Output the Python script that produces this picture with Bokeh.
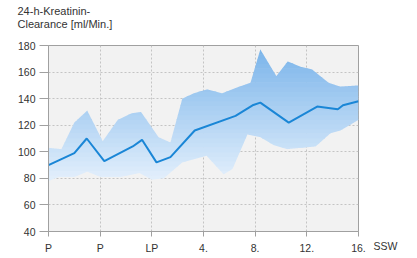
import numpy as np
from bokeh.plotting import figure
from bokeh.models import FixedTicker, LinearAxis, Range1d
from bokeh.embed import file_html
from bokeh.resources import INLINE

# ---- data ----
tick_pos = [0, 1, 2, 3, 4, 5, 6]
tick_labels = ["P", "P", "LP", "4.", "8.", "12.", "16."]
y_ticks = [40, 60, 80, 100, 120, 140, 160, 180]
title_text = "24-h-Kreatinin-\nClearance [ml/Min.]"
unit_label = "SSW"

mean_x = [0.00, 0.50, 0.74, 1.08, 1.63, 1.81, 2.09, 2.36, 2.83, 3.62, 3.95, 4.10, 4.65, 5.20, 5.60, 5.70, 6.00]
mean_y = [90, 99, 110, 93, 104, 109, 92, 96, 116, 127, 135, 137, 122, 134, 132, 135, 138]

upper_x = [0.00, 0.25, 0.50, 0.75, 1.05, 1.34, 1.61, 1.79, 2.13, 2.36, 2.59, 2.81, 3.07, 3.36, 3.62, 3.91, 4.10, 4.41, 4.63, 4.88, 5.10, 5.42, 5.65, 6.00]
upper_y = [103, 102, 122, 131, 108, 124, 129, 130, 111, 107, 140, 144, 147, 144, 148, 152, 177, 157, 168, 164, 162, 152, 149, 150]

lower_x = [0.00, 0.20, 0.50, 0.75, 1.01, 1.39, 1.76, 2.00, 2.23, 2.59, 3.06, 3.39, 3.56, 3.85, 4.10, 4.36, 4.62, 5.17, 5.46, 5.65, 6.00]
lower_y = [78, 81, 81, 85, 81, 81, 84, 79, 80, 92, 97, 83, 87, 113, 111, 105, 102, 104, 114, 116, 124]

p = figure(width=410, height=256, x_range=(0, 6), y_range=(40, 180),
           output_backend="svg", toolbar_location=None,
           min_border_left=48, min_border_right=52, min_border_top=43, min_border_bottom=23,
           background_fill_color="#f2f2f2", border_fill_color="white")

# ---- gradient band, drawn as horizontal strips ----
xs = np.union1d(np.linspace(0, 6, 1201), np.union1d(upper_x, lower_x))
up = np.interp(xs, upper_x, upper_y)
lo = np.interp(xs, lower_x, lower_y)
top_c = np.array([0x78, 0xb3, 0xea])
bot_c = np.array([0xe2, 0xef, 0xfc])
edges = np.arange(40, 181, 3.5)
for a, b in zip(edges[:-1], edges[1:]):
    mid = (a + b) / 2
    t = np.clip((mid - 80) / (180 - 80), 0, 1)
    c = (bot_c + (top_c - bot_c) * t).astype(int)
    col = "#%02x%02x%02x" % tuple(c)
    y1 = np.clip(lo, a, b + 0.4)
    y2 = np.clip(up, a, b + 0.4)
    y2 = np.maximum(y1, y2)
    p.varea(x=xs, y1=y1, y2=y2, fill_color=col, fill_alpha=1.0)

p.line(mean_x, mean_y, line_color="#1a86d6", line_width=2)

# ---- axes ----
p.xaxis.ticker = FixedTicker(ticks=tick_pos)
p.xaxis.major_label_overrides = {t: l for t, l in zip(tick_pos, tick_labels)}
p.yaxis.ticker = FixedTicker(ticks=y_ticks)
for ax in (p.xaxis, p.yaxis):
    ax.axis_line_color = "#a0a0a0"
    ax.major_tick_line_color = "#a0a0a0"
    ax.minor_tick_line_color = None
    ax.major_tick_in = 0
    ax.major_label_text_font = "Liberation Sans"
    ax.major_label_text_font_size = "10.5px"
    ax.major_label_text_color = "#333333"
p.yaxis.major_tick_out = 9
p.yaxis.major_label_standoff = 4
p.xaxis.major_tick_out = 5
p.xaxis.major_label_standoff = 5

# unit label "SSW" right of the last x tick, via a label-only right axis
p.extra_y_ranges = {"unit": Range1d(40, 180)}
unit_axis = LinearAxis(y_range_name="unit", ticker=FixedTicker(ticks=[40]),
                       major_label_overrides={40: "\n\n" + unit_label},
                       axis_line_color=None, major_tick_line_color=None,
                       minor_tick_line_color=None, major_tick_in=0, major_tick_out=0,
                       major_label_standoff=15,
                       major_label_text_font="Liberation Sans",
                       major_label_text_font_size="10.5px",
                       major_label_text_color="#333333")
p.add_layout(unit_axis, "right")

p.xgrid.grid_line_color = "#c4c4c4"
p.xgrid.grid_line_dash = "2 2"
p.ygrid.grid_line_color = "#c4c4c4"
p.ygrid.grid_line_dash = "2 2"
p.outline_line_color = "#a0a0a0"

p.title.text = title_text + "\n"
p.title.align = "left"
p.title.vertical_align = "bottom"
p.title.offset = -31
p.title.standoff = 4
p.title.text_font = "Liberation Sans"
p.title.text_font_size = "11px"
p.title.text_line_height = 1.12
p.title.text_font_style = "normal"
p.title.text_color = "#333333"

open("out.html", "w").write(file_html(p, INLINE))
